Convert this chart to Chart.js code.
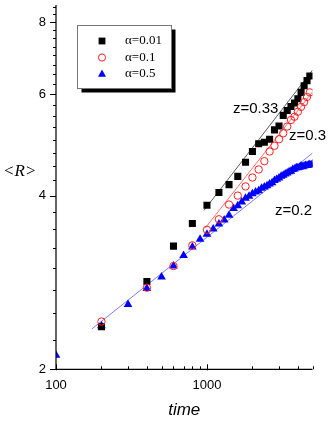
<!DOCTYPE html>
<html>
<head>
<meta charset="utf-8">
<script src="https://cdn.jsdelivr.net/npm/chart.js@4.4.1/dist/chart.umd.min.js"></script>
<style>
  html, body { margin: 0; padding: 0; background: #fff; }
</style>
</head>
<body>
<canvas id="chart" width="335" height="422"></canvas>
<script>
// alpha = 0.01 (black squares)
const timeA = [200, 400, 600, 800, 1000, 1200, 1400, 1600, 1800, 2000, 2200, 2400, 2600, 2800, 3000, 3200, 3400, 3600, 3800, 4000, 4200, 4400, 4600, 4800];
const rA = [2.37, 2.84, 3.27, 3.58, 3.85, 4.05, 4.18, 4.32, 4.57, 4.77, 4.92, 4.95, 5.01, 5.20, 5.28, 5.51, 5.62, 5.71, 5.79, 5.89, 6.04, 6.20, 6.33, 6.45];

// alpha = 0.1 (red circles)
const timeB = [200, 400, 600, 800, 1000, 1200, 1400, 1600, 1800, 2000, 2200, 2400, 2600, 2800, 3000, 3200, 3400, 3600, 3800, 4000, 4200, 4400, 4600, 4800];
const rB = [2.42, 2.77, 3.02, 3.28, 3.49, 3.64, 3.86, 4.00, 4.15, 4.30, 4.44, 4.59, 4.77, 4.88, 5.01, 5.13, 5.27, 5.41, 5.48, 5.59, 5.70, 5.81, 5.93, 6.04];

// alpha = 0.5 (blue triangles)
const timeC = [100, 200, 300, 400, 500, 600, 700, 800, 900, 1000,
  1100, 1200, 1300, 1400, 1500, 1600, 1700, 1800, 1900, 2000,
  2100, 2200, 2300, 2400, 2500, 2600, 2700, 2800, 2900, 3000,
  3100, 3200, 3300, 3400, 3500, 3600, 3700, 3800, 3900, 4000,
  4100, 4200, 4300, 4400, 4500, 4600, 4700, 4800, 4900, 5000];
const rC = [2.115, 2.38, 2.59, 2.76, 2.89, 3.02, 3.15, 3.26, 3.36, 3.43,
  3.50, 3.57, 3.63, 3.70, 3.80, 3.84, 3.90, 3.96, 3.99, 4.03,
  4.06, 4.08, 4.12, 4.14, 4.16, 4.19, 4.21, 4.25, 4.27, 4.29,
  4.32, 4.34, 4.36, 4.38, 4.40, 4.41, 4.44, 4.45, 4.47, 4.47,
  4.48, 4.50, 4.49, 4.50, 4.51, 4.51, 4.52, 4.53, 4.52, 4.54];

// fitted power laws, end points
const fitA = [[955, 3.77], [5000, 6.60]];   // z=0.33
const fitB = [[970, 3.51], [5000, 6.05]];   // z=0.3
const fitC = [[173, 2.35], [5000, 4.74]];   // z=0.2

// axis ticks
const xMajor = [100, 1000];
const xMinor = [200, 300, 400, 500, 600, 700, 800, 900, 2000, 3000, 4000, 5000];
const yMajor = [2, 4, 6, 8];
const yMinor = [2.25, 2.5, 2.75, 3, 3.25, 3.5, 3.75, 4.25, 4.5, 4.75, 5, 5.25, 5.5, 5.75,
  6.25, 6.5, 6.75, 7, 7.25, 7.5, 7.75, 8.25, 8.5];

const legendLabels = ['\u03b1=0.01', '\u03b1=0.1', '\u03b1=0.5'];
const slopeLabels = [
  { text: 'z=0.33', x: 1486, y: 5.66 },
  { text: 'z=0.3', x: 3492, y: 5.07 },
  { text: 'z=0.2', x: 2818, y: 3.76 }
];

const toPts = (xs, ys) => xs.map((t, i) => ({ x: t, y: ys[i] }));
const toLine = arr => arr.map(p => ({ x: p[0], y: p[1] }));

const sans = '"Liberation Sans", Arial, sans-serif';
const serif = '"Liberation Serif", "Times New Roman", serif';

// draws axes, ticks, titles, legend and slope labels
const decorPlugin = {
  id: 'decor',
  afterDraw(chart) {
    const { ctx, chartArea: a, scales: { x, y } } = chart;
    ctx.save();
    ctx.strokeStyle = '#000';
    ctx.fillStyle = '#000';
    ctx.lineWidth = 1.2;

    ctx.beginPath();
    ctx.moveTo(a.left, a.top);
    ctx.lineTo(a.left, a.bottom);
    ctx.lineTo(a.right, a.bottom);
    ctx.stroke();

    ctx.lineWidth = 1;
    ctx.beginPath();
    yMinor.forEach(v => {
      const py = Math.round(y.getPixelForValue(v)) + 0.5;
      ctx.moveTo(a.left - 3, py); ctx.lineTo(a.left, py);
    });
    yMajor.forEach(v => {
      const py = Math.round(y.getPixelForValue(v)) + 0.5;
      ctx.moveTo(a.left - 6, py); ctx.lineTo(a.left, py);
    });
    xMinor.forEach(v => {
      const px = Math.round(x.getPixelForValue(v)) + 0.5;
      ctx.moveTo(px, a.bottom); ctx.lineTo(px, a.bottom - 3);
    });
    xMajor.forEach(v => {
      const px = Math.round(x.getPixelForValue(v)) + 0.5;
      ctx.moveTo(px, a.bottom + 1); ctx.lineTo(px, a.bottom - 5);
    });
    ctx.stroke();

    ctx.font = '13px ' + sans;
    ctx.textAlign = 'right';
    ctx.textBaseline = 'middle';
    yMajor.forEach(v => ctx.fillText(String(v), a.left - 10, y.getPixelForValue(v)));
    ctx.textAlign = 'center';
    xMajor.forEach(v => ctx.fillText(String(v), x.getPixelForValue(v), a.bottom + 16));

    ctx.font = 'italic 17px ' + sans;
    ctx.fillText('time', (a.left + a.right) / 2, 410);

    // <R> title
    ctx.font = '17px ' + serif;
    ctx.textAlign = 'left';
    let tx = 4;
    const ty = 172;
    ctx.fillText('<', tx, ty); tx += ctx.measureText('<').width + 1;
    ctx.font = 'italic 17px ' + serif;
    ctx.fillText('R', tx, ty); tx += ctx.measureText('R').width + 1;
    ctx.font = '17px ' + serif;
    ctx.fillText('>', tx, ty);

    // slope labels
    ctx.font = '15px ' + sans;
    slopeLabels.forEach(l => ctx.fillText(l.text, x.getPixelForValue(l.x), y.getPixelForValue(l.y)));

    // legend box with shadow
    const bx = 77.5, by = 25.5, bw = 94, bh = 63;
    ctx.fillStyle = '#000';
    ctx.fillRect(bx + 4, by + 4, bw, bh);
    ctx.fillStyle = '#fff';
    ctx.fillRect(bx, by, bw, bh);
    ctx.strokeStyle = '#777';
    ctx.lineWidth = 1;
    ctx.strokeRect(bx, by, bw, bh);

    const mx = 102;
    const rows = [41, 57.5, 74];
    ctx.fillStyle = '#000';
    ctx.fillRect(mx - 3.4, rows[0] - 3.4, 6.8, 6.8);
    ctx.strokeStyle = '#ff2020';
    ctx.beginPath(); ctx.arc(mx, rows[1], 3.6, 0, Math.PI * 2); ctx.stroke();
    ctx.fillStyle = '#0000ff';
    ctx.beginPath();
    ctx.moveTo(mx, rows[2] - 4.5); ctx.lineTo(mx + 4, rows[2] + 2.7); ctx.lineTo(mx - 4, rows[2] + 2.7);
    ctx.closePath(); ctx.fill();

    ctx.fillStyle = '#000';
    ctx.font = '13px ' + serif;
    ctx.textAlign = 'left';
    legendLabels.forEach((t, i) => ctx.fillText(t, 125, rows[i]));
    ctx.restore();
  }
};

new Chart(document.getElementById('chart').getContext('2d'), {
  type: 'scatter',
  data: {
    datasets: [
      { data: toLine(fitA), showLine: true, borderColor: '#333', borderWidth: 0.8, pointRadius: 0, order: 5 },
      { data: toLine(fitB), showLine: true, borderColor: '#ff4a4a', borderWidth: 0.8, pointRadius: 0, order: 5 },
      { data: toLine(fitC), showLine: true, borderColor: '#5a5aff', borderWidth: 0.8, pointRadius: 0, order: 5 },
      { label: legendLabels[2], data: toPts(timeC, rC), pointStyle: 'triangle', pointRadius: 5,
        backgroundColor: '#0000ff', borderColor: '#0000ff', borderWidth: 0, order: 3 },
      { label: legendLabels[0], data: toPts(timeA, rA), pointStyle: 'rect', pointRadius: 5,
        backgroundColor: '#000', borderColor: '#000', borderWidth: 0, order: 2 },
      { label: legendLabels[1], data: toPts(timeB, rB), pointStyle: 'circle', pointRadius: 3.7,
        backgroundColor: 'rgba(0,0,0,0)', borderColor: '#ff2020', borderWidth: 1, order: 1 }
    ]
  },
  options: {
    responsive: false,
    animation: false,
    devicePixelRatio: 1,
    layout: { padding: { left: 56, right: 22.5, top: 0, bottom: 52.7 } },
    plugins: { legend: { display: false }, tooltip: { enabled: false } },
    scales: {
      x: { type: 'logarithmic', min: 100, max: 5000, display: false },
      y: { type: 'logarithmic', min: 2, max: 8.56, display: false }
    }
  },
  plugins: [decorPlugin]
});
</script>
</body>
</html>
